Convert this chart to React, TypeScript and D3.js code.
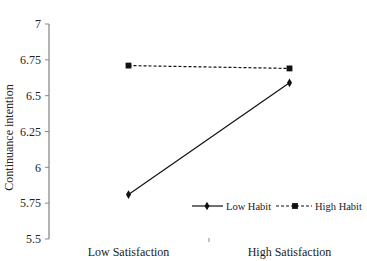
import React from 'react';
import * as d3 from 'd3';

const categories = ['Low Satisfaction', 'High Satisfaction'];
const lowHabit = [5.81, 6.59];
const highHabit = [6.71, 6.69];
const yTicks = [5.5, 5.75, 6, 6.25, 6.5, 6.75, 7];

const W = 367;
const H = 261;

const App = () => {
  const x = d3.scalePoint<string>().domain(categories).range([48, 370]).padding(0.5);
  const y = d3.scaleLinear().domain([5.5, 7]).range([239, 24]);

  const line = d3.line<number>()
    .x((d, i) => x(categories[i]) as number)
    .y((d) => y(d));

  const diamond = d3.symbol().type(d3.symbolDiamond).size(22)();
  const square = d3.symbol().type(d3.symbolSquare).size(34)();

  const font = '"Liberation Serif", "Times New Roman", serif';

  return (
    <svg width={W} height={H} style={{ position: 'absolute', left: 0, top: 0, background: '#fff' }} fontFamily={font}>
      {/* y axis */}
      <line x1={49} x2={49} y1={y(7)} y2={y(5.5)} stroke="#8a8a8a" strokeWidth={1.3} />
      {yTicks.map((t) => (
        <g key={t}>
          <line x1={45} x2={49} y1={y(t)} y2={y(t)} stroke="#8a8a8a" strokeWidth={1} />
          <text x={41} y={y(t)} dy="0.35em" textAnchor="end" fontSize={12} fill="#222">{t}</text>
        </g>
      ))}
      {/* category divider tick */}
      <line x1={209} x2={209} y1={238} y2={242} stroke="#888" strokeWidth={1} />
      {categories.map((c) => (
        <text key={c} x={x(c)} y={256} textAnchor="middle" fontSize={12} fill="#222">{c}</text>
      ))}
      <text transform={`translate(13,${(y(7) + y(5.5)) / 2 + 6}) rotate(-90)`} textAnchor="middle" fontSize={12} fill="#222">
        Continuance intention
      </text>

      {/* series */}
      <path d={line(lowHabit) as string} fill="none" stroke="#111" strokeWidth={1.2} />
      <path d={line(highHabit) as string} fill="none" stroke="#111" strokeWidth={1.2} strokeDasharray="3,2" />
      {lowHabit.map((v, i) => (
        <path key={`l${i}`} d={diamond as string} transform={`translate(${x(categories[i])},${y(v)})`} fill="#111" />
      ))}
      {highHabit.map((v, i) => (
        <path key={`h${i}`} d={square as string} transform={`translate(${x(categories[i])},${y(v)})`} fill="#111" />
      ))}

      {/* legend */}
      <g>
        <line x1={192} x2={223} y1={206} y2={206} stroke="#111" strokeWidth={1.2} />
        <path d={diamond as string} transform="translate(207,206)" fill="#111" />
        <text x={226} y={206} dy="0.35em" fontSize={10.5} fill="#222">Low Habit</text>
        <line x1={276} x2={312} y1={206} y2={206} stroke="#111" strokeWidth={1.2} strokeDasharray="3,2" />
        <path d={square as string} transform="translate(295,206)" fill="#111" />
        <text x={315} y={206} dy="0.35em" fontSize={10.5} fill="#222">High Habit</text>
      </g>
    </svg>
  );
};

export default App;
